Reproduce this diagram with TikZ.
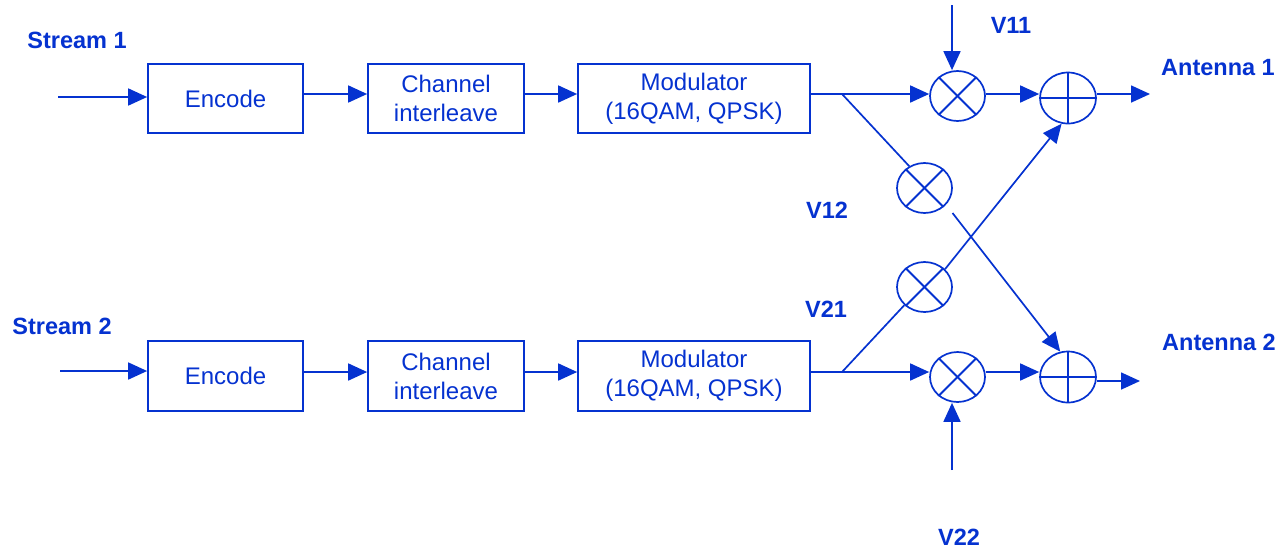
\documentclass[tikz,border=0pt]{standalone}
\usepackage{fontspec}
\setmainfont{Liberation Sans}
\usetikzlibrary{shapes.geometric,arrows.meta,calc}
\definecolor{ink}{RGB}{5,50,208}

\begin{document}
\begin{tikzpicture}[x=1pt,y=-1pt,
  lw/.style={draw=ink,line width=1.7pt},
  arr/.style={lw,-{Triangle[length=19pt,width=17pt]}},
  block/.style={lw,rectangle,minimum height=69pt,align=center,inner sep=0pt,
    text=ink,font=\fontsize{24}{29}\selectfont},
  mult/.style={lw,ellipse,minimum width=55pt,minimum height=50pt,inner sep=0pt},
  adder/.style={lw,ellipse,minimum width=56pt,minimum height=51pt,inner sep=0pt},
  lbl/.style={text=ink,inner sep=0pt,font=\fontsize{23.5}{28}\selectfont\bfseries}]

\useasboundingbox (0,0) rectangle (1281,550);

% signal rows
\coordinate (r1) at (0,94);
\coordinate (r2) at (0,372);

% processing chain, stream 1
\node[block,minimum width=155pt] (e1) at (225.5,98.5) {Encode};
\node[block,minimum width=156pt] (c1) at (446,98.5) {Channel\\interleave};
\node[block,minimum width=232pt] (m1) at (694,98.5) {Modulator\\(16QAM, QPSK)};

% processing chain, stream 2
\node[block,minimum width=155pt,minimum height=70pt] (e2) at (225.5,376) {Encode};
\node[block,minimum width=156pt,minimum height=70pt] (c2) at (446,376) {Channel\\interleave};
\node[block,minimum width=232pt,minimum height=70pt] (m2) at (694,376) {Modulator\\(16QAM, QPSK)};

% weight multipliers and antenna adders
\node[mult] (x11) at (957.5,96) {};
\node[mult] (x12) at (924.5,188) {};
\node[mult] (x21) at (924.5,287) {};
\node[mult] (x22) at (957.5,377) {};
\node[adder] (a1) at (1068,98) {};
\node[adder] (a2) at (1068,377) {};
\foreach \m in {x11,x12,x21,x22}{
  \draw[lw,line width=2pt] (\m.45) -- (\m.225);
  \draw[lw,line width=2pt] (\m.135) -- (\m.315);
}
\foreach \a in {a1,a2}{
  \draw[lw,line width=2pt] (\a.north) -- (\a.south);
  \draw[lw,line width=2pt] (\a.west) -- (\a.east);
}

% labels
\node[lbl] (s1) at (77,40) {Stream 1};
\node[lbl] (s2) at (62,326) {Stream 2};
\node[lbl] (l11) at (1011,25) {V11};
\node[lbl] (l12) at (827,210) {V12};
\node[lbl] (l21) at (826,309) {V21};
\node[lbl] (l22) at (959,537) {V22};
\node[lbl] (t1) at (1218,68) {Antenna 1};
\node[lbl] (t2) at (1219,342) {Antenna 2};

% free ends and branch points
\coordinate (in1) at (58,97);
\coordinate (in2) at (60,371);
\coordinate (b1) at (842,94);
\coordinate (b2) at (842,372);
\coordinate (v11) at (952,5);
\coordinate (v22) at (952,470);
\coordinate (o1) at (1150,94);
\coordinate (o2) at (1140,381);

% stream 1 path
\draw[arr] (in1) -- (in1 -| e1.west);
\draw[arr] (e1.east |- r1) -- (c1.west |- r1);
\draw[arr] (c1.east |- r1) -- (m1.west |- r1);
\draw[lw] (m1.east |- r1) -- (b1);
\draw[arr] (b1) -- (x11.west |- r1);
\draw[lw] (b1) -- (x12.125);
\draw[arr] (x11.east |- r1) -- (a1.west |- r1);
\draw[arr] (v11) -- (v11 |- x11.north);
\draw[arr] (a1.east |- r1) -- (o1);

% stream 2 path
\draw[arr] (in2) -- (in2 -| e2.west);
\draw[arr] (e2.east |- r2) -- (c2.west |- r2);
\draw[arr] (c2.east |- r2) -- (m2.west |- r2);
\draw[lw] (m2.east |- r2) -- (b2);
\draw[arr] (b2) -- (x22.west |- r2);
\draw[lw] (b2) -- (x21.222);
\draw[arr] (x22.east |- r2) -- (a2.west |- r2);
\draw[arr] (v22) -- (v22 |- x22.south);
\draw[arr] ($(a2.east)+(0,4)$) -- (o2);

% cross-coupled branches
\draw[arr] ($(x12.center)+(28,25)$) -- (a2.107);
\draw[arr] (x21.41) -- (a1.-104);

\end{tikzpicture}
\end{document}
